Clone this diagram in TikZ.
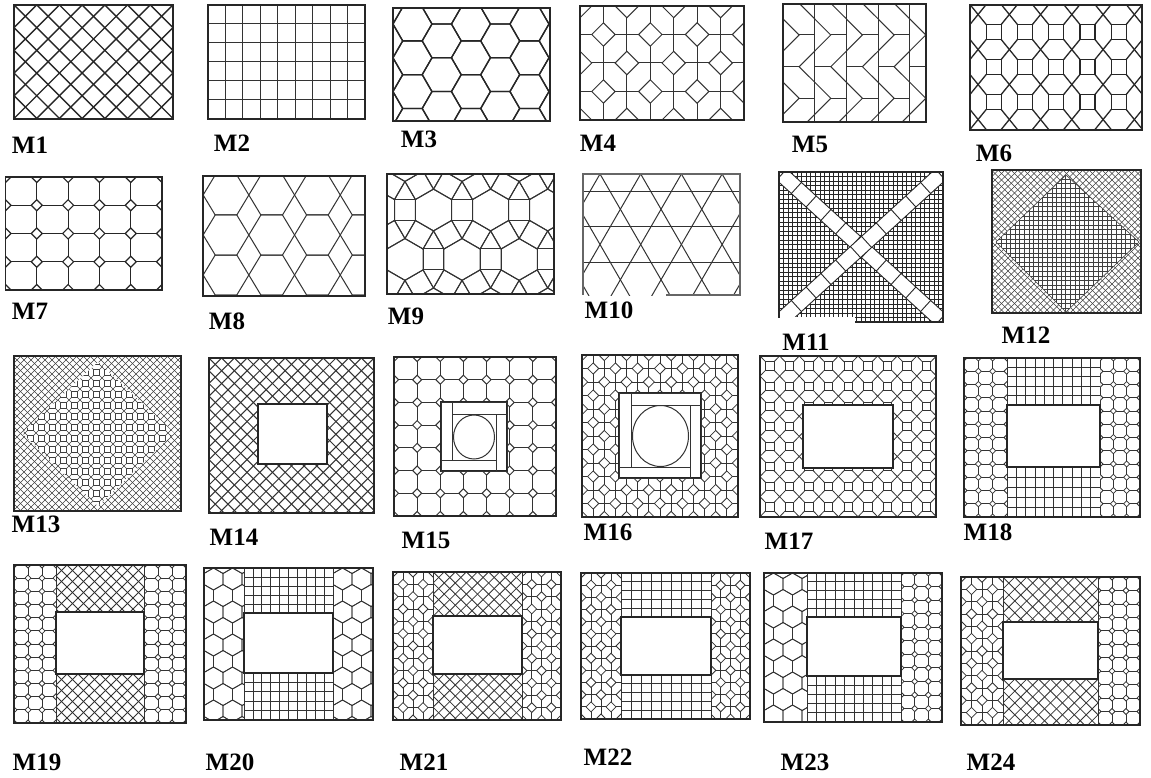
\documentclass[tikz,border=0pt]{standalone}
\usepackage{fontspec}
\setmainfont{Liberation Serif}

\tikzset{
  tileline/.style={line width=1pt, draw=black!80},
  tileframe/.style={line width=1.3pt, draw=black!85},
  tilelabel/.style={font=\fontsize{25}{30}\selectfont\bfseries, inner sep=0pt}
}

% diagonal lattice: x1 y1 x2 y2 spacing
\newcommand{\DiagGrid}[5]{%
  \begin{scope}
    \clip (#1,#2) rectangle (#3,#4);
    \pgfmathsetmacro{\hd}{#4-#2}
    \pgfmathtruncatemacro{\nd}{(#3-#1+#4-#2)/#5+1}
    \foreach \k in {0,...,\nd} {
      \draw[tileline] ({#1+\k*#5},#2) -- ++(-\hd,\hd);
      \draw[tileline] ({#3-\k*#5},#2) -- ++(\hd,\hd);
    }
  \end{scope}}

% square lattice: x1 y1 x2 y2 dx dy
\newcommand{\SquareGrid}[6]{%
  \begin{scope}
    \clip (#1,#2) rectangle (#3,#4);
    \pgfmathtruncatemacro{\nx}{(#3-#1)/#5+1}
    \pgfmathtruncatemacro{\ny}{(#4-#2)/#6+1}
    \foreach \i in {0,...,\nx}
      \draw[tileline] ({#1+\i*#5},#2) -- ({#1+\i*#5},#4);
    \foreach \j in {0,...,\ny}
      \draw[tileline] (#1,{#2+\j*#6}) -- (#3,{#2+\j*#6});
  \end{scope}}

% octagons and small diamonds: x1 y1 x2 y2 dx dy cut
\newcommand{\OctGrid}[7]{%
  \begin{scope}
    \clip (#1,#2) rectangle (#3,#4);
    \pgfmathtruncatemacro{\nx}{(#3-#1)/#5+1}
    \pgfmathtruncatemacro{\ny}{(#4-#2)/#6+1}
    \foreach \i in {0,...,\nx}
      \draw[tileline] ({#1+\i*#5},#2) -- ({#1+\i*#5},#4);
    \foreach \j in {0,...,\ny}
      \draw[tileline] (#1,{#2+\j*#6}) -- (#3,{#2+\j*#6});
    \foreach \i in {0,...,\nx}
      \foreach \j in {0,...,\ny}
        \filldraw[tileline, fill=white] ({#1+\i*#5-#7},{#2+\j*#6})
          -- ++(#7,-#7) -- ++(#7,#7) -- ++(-#7,#7) -- cycle;
  \end{scope}}

% grid with diamonds on every other crossing: x1 y1 x2 y2 dx dy
\newcommand{\StarGrid}[6]{%
  \begin{scope}
    \clip (#1,#2) rectangle (#3,#4);
    \pgfmathtruncatemacro{\nx}{(#3-#1)/#5+1}
    \pgfmathtruncatemacro{\ny}{(#4-#2)/#6+1}
    \pgfmathsetmacro{\rr}{#5/2}
    \foreach \i in {0,...,\nx}
      \draw[tileline] ({#1+\i*#5},#2) -- ({#1+\i*#5},#4);
    \foreach \j in {0,...,\ny}
      \draw[tileline] (#1,{#2+\j*#6}) -- (#3,{#2+\j*#6});
    \foreach \i in {0,...,\nx}
      \foreach \j in {0,...,\ny} {
        \pgfmathtruncatemacro{\ev}{mod(\i+\j,2)}
        \ifnum\ev=0
          \filldraw[tileline, fill=white] ({#1+\i*#5-\rr},{#2+\j*#6})
            -- ++(\rr,-\rr) -- ++(\rr,\rr) -- ++(-\rr,\rr) -- cycle;
        \fi
      }
  \end{scope}}

% flat hexagons: x1 y1 x2 y2 R cx0 cy0
\newcommand{\HexFlat}[7]{%
  \begin{scope}
    \clip (#1,#2) rectangle (#3,#4);
    \pgfmathsetmacro{\hh}{0.866*#5}
    \pgfmathtruncatemacro{\nx}{(#3-#1)/(1.5*#5)+2}
    \pgfmathtruncatemacro{\ny}{(#4-#2)/(1.732*#5)+2}
    \foreach \i in {-2,...,\nx}
      \foreach \j in {-2,...,\ny} {
        \pgfmathsetmacro{\hx}{#6+1.5*#5*\i}
        \pgfmathsetmacro{\hy}{#7+2*\hh*\j+mod(\i,2)*\hh}
        \draw[tileline] (\hx,\hy) ++(0:#5) -- ++(120:#5) -- ++(180:#5)
          -- ++(240:#5) -- ++(300:#5) -- ++(0:#5) -- cycle;
      }
  \end{scope}}

% pointed hexagons: x1 y1 x2 y2 R cx0 cy0
\newcommand{\HexPointy}[7]{%
  \begin{scope}
    \clip (#1,#2) rectangle (#3,#4);
    \pgfmathsetmacro{\ww}{1.732*#5}
    \pgfmathtruncatemacro{\nx}{(#3-#1)/\ww+2}
    \pgfmathtruncatemacro{\ny}{(#4-#2)/(1.5*#5)+2}
    \foreach \i in {-2,...,\nx}
      \foreach \j in {-2,...,\ny} {
        \pgfmathsetmacro{\hx}{#6+\ww*\i+mod(\j,2)*\ww/2}
        \pgfmathsetmacro{\hy}{#7+1.5*#5*\j}
        \draw[tileline] (\hx,\hy) ++(30:#5) -- ++(150:#5) -- ++(210:#5)
          -- ++(270:#5) -- ++(330:#5) -- ++(30:#5) -- cycle;
      }
  \end{scope}}

% squares joined by crossing diagonals: x1 y1 x2 y2 dx dy half cx0 cy0
\newcommand{\BoxGrid}[9]{%
  \begin{scope}
    \clip (#1,#2) rectangle (#3,#4);
    \pgfmathtruncatemacro{\nx}{(#3-#1)/#5+1}
    \pgfmathtruncatemacro{\ny}{(#4-#2)/#6+1}
    \foreach \i in {-1,...,\nx}
      \foreach \j in {-1,...,\ny} {
        \pgfmathsetmacro{\bx}{#8+\i*#5}
        \pgfmathsetmacro{\by}{#9+\j*#6}
        \draw[tileline] ({\bx-#7},{\by-#7}) rectangle ({\bx+#7},{\by+#7});
        \draw[tileline] ({\bx+#7},{\by+#7}) -- ({\bx+#5-#7},{\by+#6-#7});
        \draw[tileline] ({\bx+#5-#7},{\by+#7}) -- ({\bx+#7},{\by+#6-#7});
      }
  \end{scope}}

% hexagons in columns with rhombi between: x1 y1 x2 y2 halfwidth halfedge halfheight cx0 cy0
\newcommand{\HexRows}[9]{%
  \begin{scope}
    \clip (#1,#2) rectangle (#3,#4);
    \foreach \i in {-1,...,4}
      \foreach \j in {-1,...,3} {
        \pgfmathsetmacro{\hx}{#8+2*#5*\i}
        \pgfmathsetmacro{\hy}{#9+2*#7*\j}
        \draw[tileline] ({\hx+#5},\hy) -- ({\hx+#6},{\hy+#7}) -- ({\hx-#6},{\hy+#7})
          -- ({\hx-#5},\hy) -- ({\hx-#6},{\hy-#7}) -- ({\hx+#6},{\hy-#7}) -- cycle;
      }
  \end{scope}}

% hexagons, squares and triangles: x1 y1 x2 y2 edge cx0 cy0
\newcommand{\Rhombi}[7]{%
  \begin{scope}
    \clip (#1,#2) rectangle (#3,#4);
    \pgfmathsetmacro{\dd}{2.732*#5}
    \foreach \j in {-1,...,3}
      \foreach \i in {-3,...,3} {
        \pgfmathsetmacro{\hx}{#6+\dd*\i+\dd/2*\j}
        \pgfmathsetmacro{\hy}{#7+0.866*\dd*\j}
        \draw[tileline] (\hx,\hy) ++(30:#5) -- ++(150:#5) -- ++(210:#5)
          -- ++(270:#5) -- ++(330:#5) -- ++(30:#5) -- cycle;
        \foreach \a in {30,90,...,330}
          \draw[tileline] (\hx,\hy) ++(\a:#5) -- ++(\a+30:#5) -- ++(\a+120:#5) -- ++(\a+210:#5);
      }
  \end{scope}}

\begin{document}
\begin{tikzpicture}[x=1pt, y=-1pt]

% White background
\fill[white] (0,0) rectangle (1151,778);
\useasboundingbox (0,0) rectangle (1151,778);

% ---------- Row 1 ----------
\begin{scope}[tileline/.style={line width=1.4pt, draw=black!85}]
  \DiagGrid{14}{5}{173}{119}{22.7}
\end{scope}
\SquareGrid{208}{5}{365}{119}{17.44}{19}
\begin{scope}[tileline/.style={line width=1.3pt, draw=black!85}]
  \HexFlat{393}{8}{550}{121}{19.5}{441.7}{40.9}
\end{scope}
\StarGrid{580}{6}{744}{120}{23.43}{28.5}

% M5 chevrons
\begin{scope}
  \clip (783,4) rectangle (926,122);
  \foreach \i in {0,...,4} {
    \pgfmathsetmacro{\xl}{783.3+31.67*\i}
    \draw[tileline] (\xl,4) -- (\xl,122);
    \foreach \yy in {-28.3,35,98.3} {
      \draw[tileline] (\xl,\yy-15.8) -- (\xl+15.8,\yy) -- (\xl,\yy+15.8);
      \draw[tileline] (\xl+15.8,\yy) -- (\xl+31.67,\yy);
    }
    \foreach \yy in {3.3,66.7,130} {
      \draw[tileline] (\xl+31.67,\yy-15.8) -- (\xl+15.8,\yy) -- (\xl+31.67,\yy+15.8);
      \draw[tileline] (\xl,\yy) -- (\xl+15.8,\yy);
    }
  }
\end{scope}

\begin{scope}[tileline/.style={line width=1.3pt, draw=black!85}]
  \BoxGrid{970}{5}{1142}{130}{31.25}{35}{7.5}{993.7}{32}
\end{scope}

% ---------- Row 2 ----------
\begin{scope}[tileline/.style={line width=1.2pt, draw=black!85}]
  \OctGrid{5.5}{177}{162}{290}{31.3}{28.25}{5.5}
\end{scope}
\HexRows{203}{176}{365}{296}{22.85}{10.8}{20}{226}{195}
\Rhombi{387}{174}{554}{294}{20.9}{433.5}{210}

% M10 star lattice
\begin{scope}
  \clip (583,174) rectangle (740,295);
  \foreach \k in {-4,...,8} {
    \draw[tileline] ({600+40.7*\k-100},{174-173.2}) -- ({600+40.7*\k+100},{174+173.2});
    \draw[tileline] ({600+40.7*\k+100},{174-173.2}) -- ({600+40.7*\k-100},{174+173.2});
  }
  \foreach \j in {0,...,3}
    \draw[tileline] (583,{191.6+35.2*\j}) -- (740,{191.6+35.2*\j});
\end{scope}

% M11 grid with crossing bands
\begin{scope}[tileline/.style={line width=0.9pt, draw=black!85}]
  \SquareGrid{779}{172}{943}{322}{4.56}{4.55}
  \begin{scope}
    \clip (779,172) rectangle (943,322);
    \foreach \ang in {-42.4,42.4} {
      \begin{scope}[shift={(861,247)}, rotate=\ang]
        \filldraw[tileline, fill=white] (-125,-7.5) rectangle (125,7.5);
        \foreach \t in {7.5,27.5,47.5,67.5,87.5,107.5} {
          \draw[tileline] (\t,-7.5) -- (\t,7.5);
          \draw[tileline] (-\t,-7.5) -- (-\t,7.5);
        }
      \end{scope}
    }
  \end{scope}
  \fill[white] (776,317) rectangle (855,326);
\end{scope}

% M12 crosshatch with square grid diamond
\begin{scope}[tileline/.style={line width=0.6pt, draw=black!75}]
  \DiagGrid{992}{170}{1141}{313}{6.5}
  \fill[white] (1066,175) -- (1139,242) -- (1066,312) -- (996,242) -- cycle;
  \begin{scope}
    \clip (1066,175) -- (1139,242) -- (1066,312) -- (996,242) -- cycle;
    \SquareGrid{992}{170}{1141}{313}{4.6}{4.6}
  \end{scope}
  \draw[tileline] (1066,175) -- (1139,242) -- (1066,312) -- (996,242) -- cycle;
\end{scope}

% ---------- Row 3 ----------
\begin{scope}[tileline/.style={line width=0.6pt, draw=black!75}]
  \DiagGrid{14}{356}{181}{511}{7}
  \fill[white] (98,362) -- (174,433) -- (98,506) -- (22,433) -- cycle;
  \begin{scope}
    \clip (98,362) -- (174,433) -- (98,506) -- (22,433) -- cycle;
    \BoxGrid{14}{356}{181}{511}{11}{11}{2.8}{19.5}{361.5}
  \end{scope}
\end{scope}
\DiagGrid{209}{358}{374}{513}{12.7}
\OctGrid{394}{357}{556}{516}{23.14}{22.71}{4.5}
\begin{scope}[tileline/.style={line width=0.8pt, draw=black!80}]
  \StarGrid{582}{355}{738}{517}{11.14}{13.5}
  \BoxGrid{760}{356}{936}{517}{19.6}{20.1}{4.2}{769.8}{366}
  \OctGrid{964}{358}{1007}{517}{14.33}{13.25}{3}
  \OctGrid{1100}{358}{1140}{517}{13.33}{13.25}{3}
  \SquareGrid{1007}{358}{1100}{405}{9.3}{9.4}
  \SquareGrid{1007}{467}{1100}{517}{9.3}{10}
\end{scope}

% openings in row 3
\filldraw[tileframe, fill=white] (258,404) rectangle (327,464);
\filldraw[tileframe, fill=white] (441,402) rectangle (507,471);
\draw[tileline] (452,402) rectangle (507,414);
\draw[tileline] (441,402) rectangle (452,460);
\draw[tileline] (441,460) rectangle (496,471);
\draw[tileline] (496,414) rectangle (507,471);
\draw[tileline] (474,437) ellipse [x radius=20.5, y radius=22];
\filldraw[tileframe, fill=white] (619,393) rectangle (701,478);
\draw[tileline] (631,393) rectangle (701,405);
\draw[tileline] (619,393) rectangle (631,467);
\draw[tileline] (619,467) rectangle (690,478);
\draw[tileline] (690,405) rectangle (701,478);
\draw[tileline] (660.5,436) ellipse [x radius=28, y radius=30.5];
\filldraw[tileframe, fill=white] (803,405) rectangle (893,468);
\filldraw[tileframe, fill=white] (1007,405) rectangle (1100,467);

% ---------- Row 4 ----------
\begin{scope}[tileline/.style={line width=0.8pt, draw=black!80}]
  % M19
  \OctGrid{14}{565}{56}{723}{14}{13.17}{3}
  \OctGrid{144}{565}{186}{723}{14}{13.17}{3}
  \DiagGrid{56}{565}{144}{612}{11}
  \DiagGrid{56}{674}{144}{723}{11}
  % M20
  \HexPointy{204}{568}{244}{720}{11}{213.5}{579}
  \HexPointy{333}{568}{373}{720}{11}{342.5}{579}
  \SquareGrid{244}{568}{333}{613}{8.9}{9}
  \SquareGrid{244}{673}{333}{720}{8.9}{9.4}
  % M21
  \StarGrid{393}{572}{433}{720}{10}{12.33}
  \StarGrid{522}{572}{561}{720}{9.75}{12.33}
  \DiagGrid{433}{572}{522}{616}{11.1}
  \DiagGrid{433}{674}{522}{720}{11.1}
  % M22
  \StarGrid{581}{573}{621}{719}{10}{12.17}
  \StarGrid{711}{573}{750}{719}{9.75}{12.17}
  \SquareGrid{621}{573}{711}{617}{10}{8.8}
  \SquareGrid{621}{675}{711}{719}{10}{8.8}
  % M23
  \HexPointy{764}{573}{807}{722}{11}{773.5}{584}
  \OctGrid{901}{573}{942}{722}{13.67}{13.55}{3}
  \SquareGrid{807}{573}{901}{617}{9.4}{8.8}
  \SquareGrid{807}{676}{901}{722}{9.4}{9.2}
  % M24
  \StarGrid{961}{577}{1003}{725}{10.5}{12.33}
  \OctGrid{1098}{577}{1140}{725}{14}{13.45}{3}
  \DiagGrid{1003}{577}{1098}{622}{11.9}
  \DiagGrid{1003}{679}{1098}{725}{11.9}
  % strip borders
  \foreach \xa/\ya/\yb in {56/565/723,144/565/723,244/568/720,333/568/720,
      433/572/720,522/572/720,621/573/719,711/573/719,807/573/722,901/573/722,
      1003/577/725,1098/577/725}
    \draw[tileline] (\xa,\ya) -- (\xa,\yb);
\end{scope}

% openings in row 4
\foreach \xa/\ya/\xb/\yb in {56/612/144/674,244/613/333/673,433/616/522/674,
    621/617/711/675,807/617/901/676,1003/622/1098/679}
  \filldraw[tileframe, fill=white] (\xa,\ya) rectangle (\xb,\yb);

% Tile borders
\foreach \xa/\ya/\xb/\yb in {14/5/173/119,208/5/365/119,393/8/550/121,580/6/744/120,
    783/4/926/122,970/5/1142/130,5.5/177/162/290,203/176/365/296,387/174/554/294,
    992/170/1141/313,14/356/181/511,209/358/374/513,394/357/556/516,582/355/738/517,
    760/356/936/517,964/358/1140/517,14/565/186/723,204/568/373/720,393/572/561/720,
    581/573/750/719,764/573/942/722,961/577/1140/725}
  \draw[tileframe] (\xa,\ya) rectangle (\xb,\yb);
\draw[tileframe, draw=black!60] (666,295) -- (740,295) -- (740,174) -- (583,174) -- (583,295);
\draw[tileframe] (855,322) -- (943,322) -- (943,172) -- (779,172) -- (779,318);

% Labels
\node[tilelabel] (m1) at (30,145) {M1};
\node[tilelabel] (m2) at (232,143) {M2};
\node[tilelabel] (m3) at (419,139) {M3};
\node[tilelabel] (m4) at (598,143) {M4};
\node[tilelabel] (m5) at (810,144) {M5};
\node[tilelabel] (m6) at (994,153) {M6};
\node[tilelabel] (m7) at (30,311) {M7};
\node[tilelabel] (m8) at (227,321) {M8};
\node[tilelabel] (m9) at (406,316) {M9};
\node[tilelabel] (m10) at (609,310) {M10};
\node[tilelabel] (m11) at (806,342) {M11};
\node[tilelabel] (m12) at (1026,335) {M12};
\node[tilelabel] (m13) at (36,524) {M13};
\node[tilelabel] (m14) at (234,537) {M14};
\node[tilelabel] (m15) at (426,540) {M15};
\node[tilelabel] (m16) at (608,532) {M16};
\node[tilelabel] (m17) at (789,541) {M17};
\node[tilelabel] (m18) at (988,532) {M18};
\node[tilelabel] (m19) at (37,762) {M19};
\node[tilelabel] (m20) at (230,762) {M20};
\node[tilelabel] (m21) at (424,762) {M21};
\node[tilelabel] (m22) at (608,757) {M22};
\node[tilelabel] (m23) at (805,762) {M23};
\node[tilelabel] (m24) at (991,762) {M24};

\end{tikzpicture}
\end{document}
